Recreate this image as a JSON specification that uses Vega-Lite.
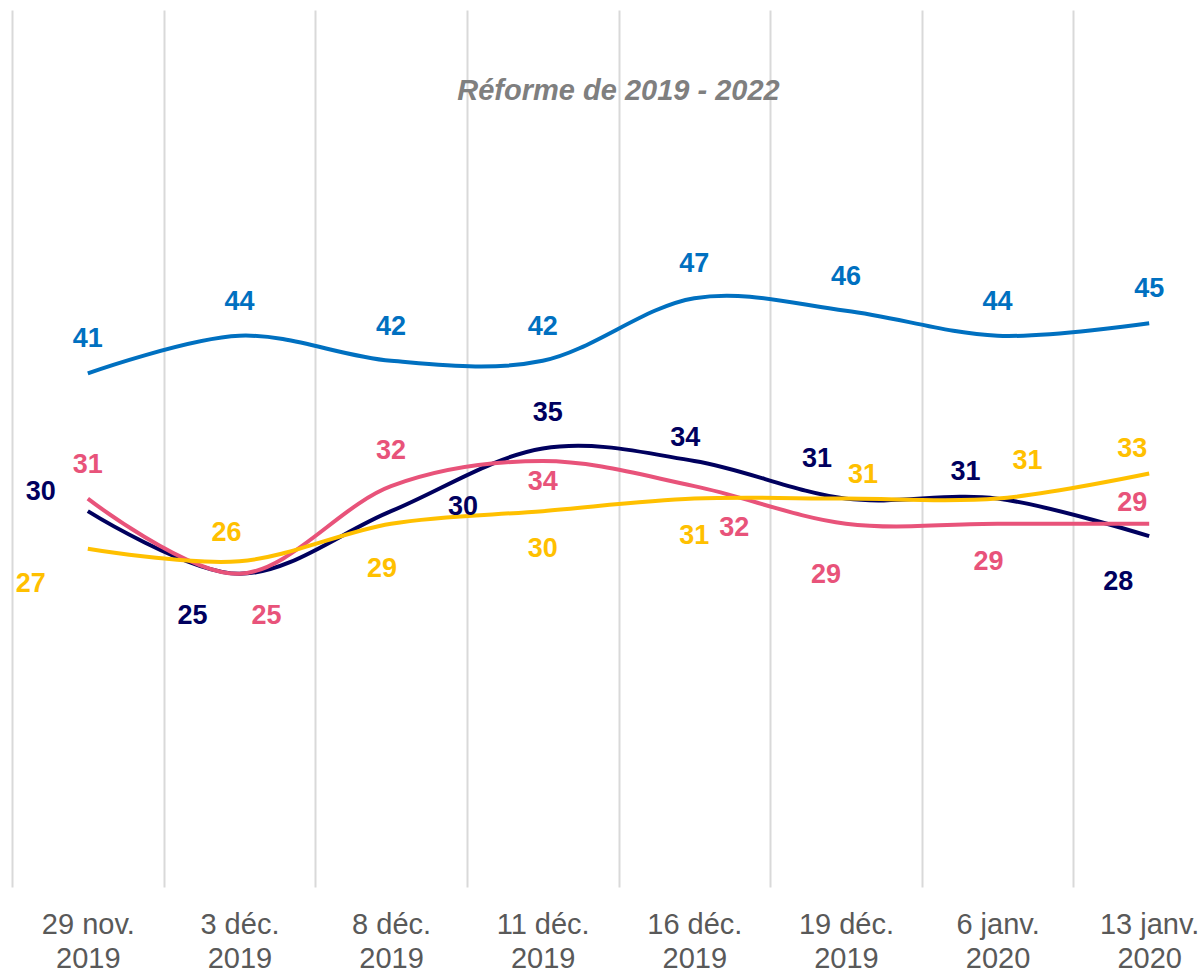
{
  "$schema": "https://vega.github.io/schema/vega-lite/v6.json",
  "autosize": "none",
  "padding": {"left": 12, "top": 10, "right": 0, "bottom": 85},
  "width": 1189,
  "height": 877,
  "background": "white",
  "config": {
    "view": {"stroke": null},
    "font": "Liberation Sans"
  },
  "title": {
    "text": "Réforme de 2019 - 2022",
    "font": "Liberation Sans",
    "fontSize": 29,
    "fontStyle": "italic",
    "fontWeight": "bold",
    "color": "#7F7F7F",
    "anchor": "middle",
    "frame": "group",
    "baseline": "alphabetic",
    "dx": 12,
    "offset": -119
  },
  "data": {
    "values": [
      {"date": "29 nov. 2019", "serie": "Bleu", "value": 41},
      {"date": "3 déc. 2019", "serie": "Bleu", "value": 44},
      {"date": "8 déc. 2019", "serie": "Bleu", "value": 42},
      {"date": "11 déc. 2019", "serie": "Bleu", "value": 42},
      {"date": "16 déc. 2019", "serie": "Bleu", "value": 47},
      {"date": "19 déc. 2019", "serie": "Bleu", "value": 46},
      {"date": "6 janv. 2020", "serie": "Bleu", "value": 44},
      {"date": "13 janv. 2020", "serie": "Bleu", "value": 45},
      {"date": "29 nov. 2019", "serie": "Marine", "value": 30},
      {"date": "3 déc. 2019", "serie": "Marine", "value": 25},
      {"date": "8 déc. 2019", "serie": "Marine", "value": 30},
      {"date": "11 déc. 2019", "serie": "Marine", "value": 35},
      {"date": "16 déc. 2019", "serie": "Marine", "value": 34},
      {"date": "19 déc. 2019", "serie": "Marine", "value": 31},
      {"date": "6 janv. 2020", "serie": "Marine", "value": 31},
      {"date": "13 janv. 2020", "serie": "Marine", "value": 28},
      {"date": "29 nov. 2019", "serie": "Rose", "value": 31},
      {"date": "3 déc. 2019", "serie": "Rose", "value": 25},
      {"date": "8 déc. 2019", "serie": "Rose", "value": 32},
      {"date": "11 déc. 2019", "serie": "Rose", "value": 34},
      {"date": "16 déc. 2019", "serie": "Rose", "value": 32},
      {"date": "19 déc. 2019", "serie": "Rose", "value": 29},
      {"date": "6 janv. 2020", "serie": "Rose", "value": 29},
      {"date": "13 janv. 2020", "serie": "Rose", "value": 29},
      {"date": "29 nov. 2019", "serie": "Jaune", "value": 27},
      {"date": "3 déc. 2019", "serie": "Jaune", "value": 26},
      {"date": "8 déc. 2019", "serie": "Jaune", "value": 29},
      {"date": "11 déc. 2019", "serie": "Jaune", "value": 30},
      {"date": "16 déc. 2019", "serie": "Jaune", "value": 31},
      {"date": "19 déc. 2019", "serie": "Jaune", "value": 31},
      {"date": "6 janv. 2020", "serie": "Jaune", "value": 31},
      {"date": "13 janv. 2020", "serie": "Jaune", "value": 33}
    ]
  },
  "encoding": {
    "x": {
      "field": "date",
      "type": "nominal",
      "sort": null,
      "scale": {"type": "band", "paddingInner": 0, "paddingOuter": 0, "range": [0, 1213]},
      "axis": {
        "title": null,
        "domain": false,
        "ticks": false,
        "tickSize": 0,
        "tickBand": "extent",
        "grid": true,
        "gridColor": "#D9D9D9",
        "gridWidth": 2,
        "labelAngle": 0,
        "labelFont": "Liberation Sans",
        "labelFontSize": 29,
        "labelColor": "#595959",
        "labelPadding": 23,
        "labelLineHeight": 34,
        "labelExpr": "[substring(datum.label, 0, length(datum.label) - 5), substring(datum.label, length(datum.label) - 4)]"
      }
    },
    "y": {
      "field": "value",
      "type": "quantitative",
      "scale": {"domain": [0, 70]},
      "axis": null
    },
    "color": {
      "field": "serie",
      "type": "nominal",
      "scale": {
        "domain": ["Bleu", "Marine", "Rose", "Jaune"],
        "range": ["#0070C0", "#00005E", "#E8537A", "#FFC000"]
      },
      "legend": null
    }
  },
  "layer": [
    {
      "mark": {"type": "line", "interpolate": "cardinal", "strokeWidth": 4},
      "encoding": {
        "order": {"field": "serie"}
      }
    },
    {
      "mark": {
        "type": "text",
        "font": "Liberation Sans",
        "fontSize": 27,
        "fontWeight": "bold",
        "align": "center",
        "baseline": "middle",
        "dx": {"expr": "(datum.serie == 'Marine' ? [-47,-47,72,5,-9,-29,-32,-31] : datum.serie == 'Rose' ? [0,27,0,0,40,-20,-9,-17] : datum.serie == 'Jaune' ? [-57,-13,-9,0,0,17,30,-17] : [0,0,0,0,0,0,0,0])[indexof(['29 nov. 2019','3 déc. 2019','8 déc. 2019','11 déc. 2019','16 déc. 2019','19 déc. 2019','6 janv. 2020','13 janv. 2020'], datum.date)]"},
        "dy": {"expr": "(datum.serie == 'Marine' ? [-19,42,-4,-36,-23,-40,-27,46] : datum.serie == 'Rose' ? [-34,42,-35,21,42,51,38,-21] : datum.serie == 'Jaune' ? [35,-28,45,38,37,-24,-38,-25] : [-34,-34,-34,-34,-34,-34,-34,-34])[indexof(['29 nov. 2019','3 déc. 2019','8 déc. 2019','11 déc. 2019','16 déc. 2019','19 déc. 2019','6 janv. 2020','13 janv. 2020'], datum.date)]"}
      },
      "encoding": {
        "text": {"field": "value", "type": "quantitative"}
      }
    }
  ]
}
